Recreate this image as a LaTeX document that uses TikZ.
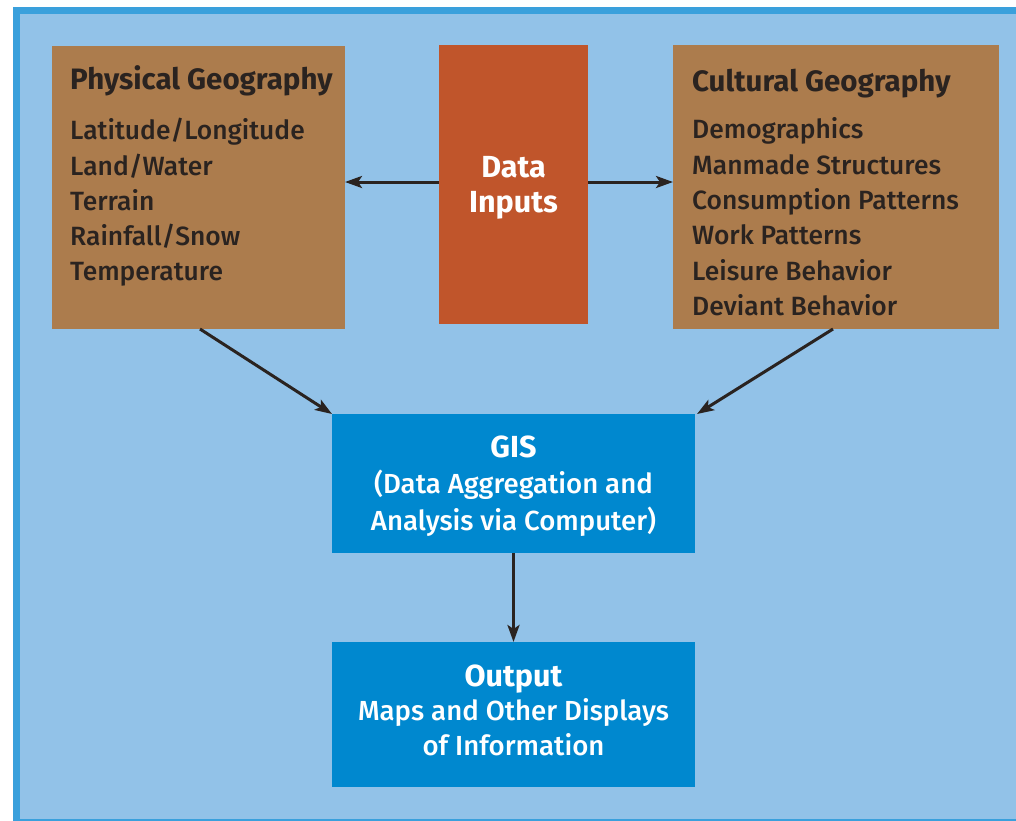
\documentclass[tikz,border=0pt]{standalone}
\usepackage{fontspec}
\setmainfont{Fira Sans}[UprightFont=* Medium, BoldFont=* Bold]
\usetikzlibrary{arrows.meta}
\definecolor{framec}{HTML}{3AA0DC}
\definecolor{bgc}{HTML}{92C2E8}
\definecolor{brownc}{HTML}{AC7C4D}
\definecolor{orangec}{HTML}{C0552B}
\definecolor{bluec}{HTML}{0088CF}
\definecolor{inkc}{HTML}{2A2320}
\begin{document}
\begin{tikzpicture}[x=1pt,y=-1pt,
  boxnode/.style={inner sep=0pt, outer sep=0pt, anchor=north west, draw=none},
  brownbox/.style={boxnode, fill=brownc},
  orangebox/.style={boxnode, fill=orangec},
  bluebox/.style={boxnode, fill=bluec},
  titletext/.style={inner sep=0pt, anchor=base west, text=inkc, font=\fontsize{29.5}{35}\selectfont\bfseries},
  itemtext/.style={inner sep=0pt, anchor=base west, text=inkc, font=\fontsize{26.4}{33}\selectfont},
  whitebold/.style={inner sep=0pt, anchor=base, text=white, font=\fontsize{30.5}{35}\selectfont\bfseries},
  whitetext/.style={inner sep=0pt, anchor=base, text=white, font=\fontsize{27.6}{33}\selectfont},
  arr/.style={draw=inkc, line width=3pt, -{Stealth[length=17pt, width=12pt, inset=4pt]}}
]
\useasboundingbox (0,0) rectangle (1016,820);
\clip (0,0) rectangle (1016,820);
\fill[framec] (13,7) rectangle (1040,840);
\fill[bgc] (20,14) rectangle (1040,819);

% boxes
\node[brownbox, minimum width=293pt, minimum height=283pt] (phys) at (52,46) {};
\node[orangebox, minimum width=149pt, minimum height=279pt] (data) at (439,45) {};
\node[brownbox, minimum width=326pt, minimum height=284pt] (cult) at (673,45) {};
\node[bluebox, minimum width=363pt, minimum height=139pt] (gis) at (332,414) {};
\node[bluebox, minimum width=363pt, minimum height=145pt] (out) at (332,642) {};

% physical geography text
\node[titletext] (p0) at (70,89) {Physical Geography};
\node[itemtext] (p1) at (70,139) {Latitude/Longitude};
\node[itemtext] (p2) at (70,175) {Land/Water};
\node[itemtext] (p3) at (70,210) {Terrain};
\node[itemtext] (p4) at (70,245) {Rainfall/Snow};
\node[itemtext] (p5) at (70,280) {Temperature};

% cultural geography text
\node[titletext] (c0) at (692,91) {Cultural Geography};
\node[itemtext] (c1) at (692,138) {Demographics};
\node[itemtext] (c2) at (692,174) {Manmade Structures};
\node[itemtext] (c3) at (692,209) {Consumption Patterns};
\node[itemtext] (c4) at (692,244) {Work Patterns};
\node[itemtext] (c5) at (692,280) {Leisure Behavior};
\node[itemtext] (c6) at (692,315) {Deviant Behavior};

% data inputs text
\node[whitebold] (d1) at (513.5,177) {Data};
\node[whitebold] (d2) at (513.5,212) {Inputs};

% GIS text
\node[whitebold] (g1) at (513.5,457) {GIS};
\node[whitetext] (g2) at (513.5,493) {(Data Aggregation and};
\node[whitetext] (g3) at (513.5,530) {Analysis via Computer)};

% output text
\node[whitebold] (o1) at (513.5,686) {Output};
\node[whitetext] (o2) at (513.5,720) {Maps and Other Displays};
\node[whitetext] (o3) at (513.5,755) {of Information};

% connectors
\draw[arr] ([yshift=2.5pt]data.west) -- ([yshift=2.5pt]data.west -| phys.east);
\draw[arr] ([yshift=2.5pt]data.east) -- ([yshift=2.5pt]data.east -| cult.west);
\draw[arr] ([xshift=1.5pt]phys.south) -- (gis.north west);
\draw[arr] ([xshift=-3pt]cult.south) -- ([xshift=2pt]gis.north east);
\draw[arr] (gis.south) -- (out.north);
\end{tikzpicture}
\end{document}
